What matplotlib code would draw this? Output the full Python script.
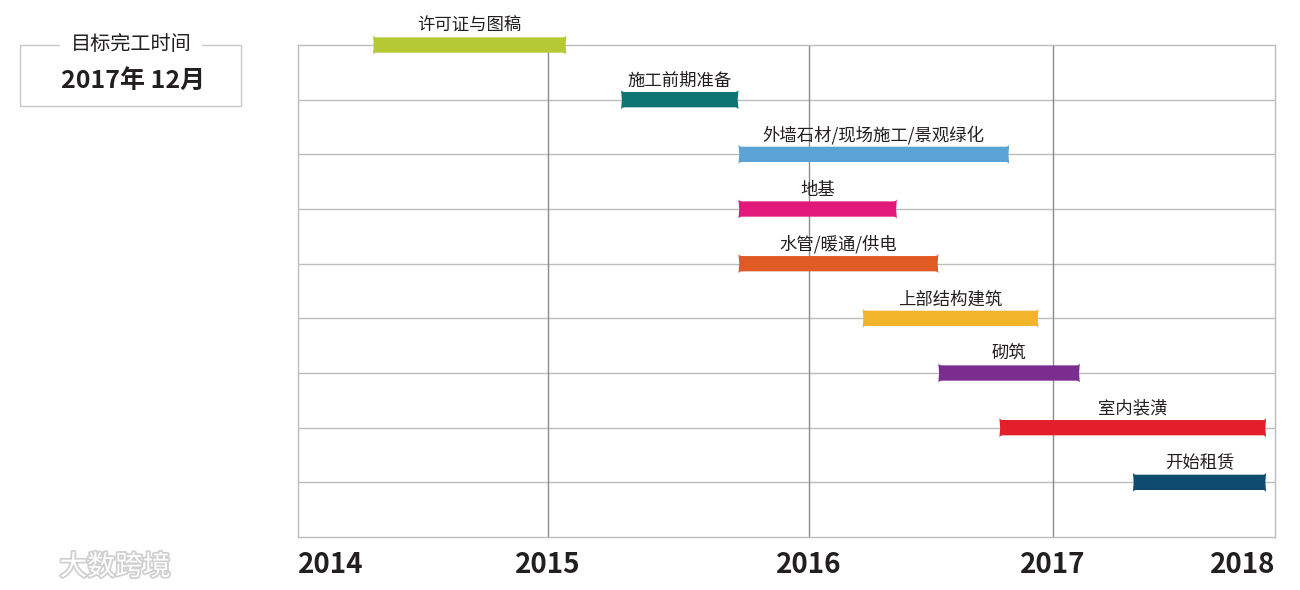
import numpy as np
import matplotlib
matplotlib.use("Agg")
import matplotlib.pyplot as plt
from matplotlib.patches import Polygon, Rectangle
import matplotlib.patheffects as pe

plt.rcParams['font.family'] = ['Noto Sans CJK SC', 'DejaVu Sans']

# year ticks and where they sit along the axis (spacing is uneven in the original)
years = [2014, 2015, 2016, 2017, 2018]
year_pos = [0.0, 0.256, 0.523, 0.773, 1.0]

tasks = ['许可证与图稿', '施工前期准备', '外墙石材/现场施工/景观绿化', '地基', '水管/暖通/供电',
         '上部结构建筑', '砌筑', '室内装潢', '开始租赁']
starts = [2014.30, 2015.28, 2015.73, 2015.73, 2015.73, 2016.22, 2016.53, 2016.78, 2017.36]
ends = [2015.07, 2015.73, 2016.82, 2016.36, 2016.53, 2016.94, 2017.12, 2017.96, 2017.96]
colors = ['#b5c935', '#0e7572', '#5ba3d5', '#e2187b', '#e05a24',
          '#f2b42a', '#7b2c8f', '#e21f2b', '#0f4b6f']

target_title = '目标完工时间'
target_date = '2017年 12月'

# piecewise-linear time scale, extended a bit past both ends
xs = np.array([1900.0] + years + [2100.0])
ps = np.array([year_pos[0] - 114 * (year_pos[1] - year_pos[0])] + year_pos +
              [year_pos[-1] + 82 * (year_pos[-1] - year_pos[-2])])


def fwd(x):
    return np.interp(x, xs, ps)


def inv(p):
    return np.interp(p, ps, xs)


fig = plt.figure(figsize=(13, 5.9), dpi=100)
ax = fig.add_axes([0.2292, 0.0898, 0.7515, 0.8339])
ax.set_xscale('function', functions=(fwd, inv))
ax.set_xlim(years[0], years[-1])
ax.set_ylim(len(tasks), 0)

for s in ax.spines.values():
    s.set_color('#bdbdbd')
    s.set_linewidth(1)

for i in range(1, len(tasks)):
    ax.axhline(i, color='#bdbdbd', lw=1, zorder=1)
for yr in years[1:-1]:
    ax.axvline(yr, color='#8c8c8c', lw=1, zorder=1)

ax.set_yticks([])
ax.set_xticks(years, labels=[str(y) for y in years])
ax.tick_params(axis='x', length=0, pad=10, labelsize=20)
for lab in ax.get_xticklabels():
    lab.set_fontweight('heavy')
    lab.set_color('#231f20')
ax.get_xticklabels()[0].set_horizontalalignment('left')
ax.get_xticklabels()[-1].set_horizontalalignment('right')

hh = 0.14    # half bar height
e = 0.035    # flare at the ends
c = 0.012    # flare length (years)
for i, (t, x0, x1, col) in enumerate(zip(tasks, starts, ends, colors)):
    y = i
    pts = [(x0, y - hh - e), (x0 + c * 0.4, y - hh - 0.01), (x0 + c, y - hh),
           (x1 - c, y - hh), (x1 - c * 0.4, y - hh - 0.01), (x1, y - hh - e),
           (x1 - 0.003, y), (x1, y + hh + e),
           (x1 - c * 0.4, y + hh + 0.01), (x1 - c, y + hh),
           (x0 + c, y + hh), (x0 + c * 0.4, y + hh + 0.01), (x0, y + hh + e),
           (x0 + 0.003, y)]
    ax.add_patch(Polygon(pts, closed=True, fc=col, ec='none', zorder=3, clip_on=False))
    xm = inv((fwd(x0) + fwd(x1)) / 2)
    ax.text(xm, y - 0.35, t, ha='center', va='center', fontsize=12.5,
            fontweight='medium', color='#231f20', zorder=4, clip_on=False)

# target completion box
fig.add_artist(Rectangle((20 / 1300, 1 - 106 / 590), 221 / 1300, 61 / 590,
                         transform=fig.transFigure, fill=False, ec='#c8c8c8', lw=1))
fig.text(131 / 1300, 1 - 44 / 590, target_title, ha='center', va='center',
         fontsize=14.5, fontweight='medium', color='#231f20',
         bbox=dict(boxstyle='square,pad=0.55', fc='white', ec='none'))
fig.text(133 / 1300, 1 - 81 / 590, target_date, ha='center', va='center',
         fontsize=18, fontweight='heavy', color='#231f20')

# watermark
fig.text(115 / 1300, 1 - 567 / 590, '大数跨境', ha='center', va='center',
         fontsize=20, color='white',
         path_effects=[pe.withStroke(linewidth=2.5, foreground='#cfcfcf')])

fig.savefig('out.png', dpi=100)
